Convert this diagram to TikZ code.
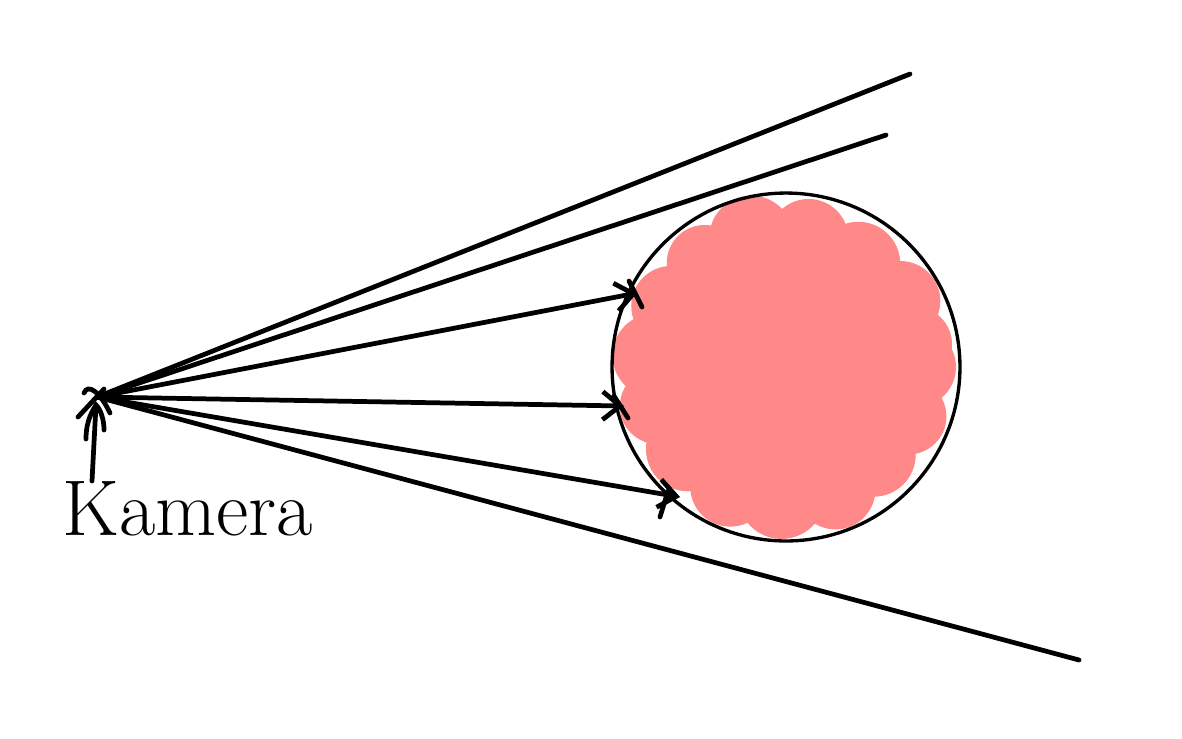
\documentclass[tikz,border=0pt]{standalone}
\usetikzlibrary{arrows.meta,calc}
\definecolor{blobpink}{RGB}{255,136,136}
\tikzset{
  ray/.style={line width=2.7pt, line cap=round},
  arrowray/.style={ray, -{Straight Barb[length=10pt,width=16pt,line width=2.7pt]}},
  tick/.style={line width=2.7pt, line cap=round},
  rim/.style={line width=1.9pt},
  blob/.style={fill=blobpink, draw=none},
  label/.style={font=\fontsize{45}{45}\selectfont, inner sep=0pt}
}
\begin{document}
\begin{tikzpicture}[x=0.02cm,y=-0.02cm]
\useasboundingbox (0,0) rectangle (1182,738);
% pink blob
\fill[blob] (786,367) circle (134);
\foreach \a/\r/\d in {0/40/130,22/38/132,45/42/124,68/40/132,92/44/128,115/40/132,140/42/128,163/38/134,185/42/132,208/40/130,232/38/132,255/42/134,280/40/130,305/42/126,330/40/132,350/38/130}{
  \fill[blob] ($(786,367)+(\a:\d)$) circle (\r);
}
% circle
\node[draw, rim, circle, minimum size=6.96cm, inner sep=0pt] (ball) at (786,367) {};
% camera and endpoints
\coordinate (cam) at (97,397);
\coordinate (top1) at (910,74);
\coordinate (top2) at (886,135);
\coordinate (bot) at (1079,660);
\coordinate (p1) at (637,293);
\coordinate (p2) at (624,406);
\coordinate (p3) at (680,497);
\draw[ray] (cam) -- (top1);
\draw[ray] (cam) -- (top2);
\draw[ray] (cam) -- (bot);
\draw[arrowray] (cam) -- (p1);
\draw[arrowray] (cam) -- (p2);
\draw[arrowray] (cam) -- (p3);
% crosses at the hit points
\draw[tick] ($(p1)+(-8,-12)$) -- ($(p1)+(5,14)$);
\draw[tick] ($(p2)+(-10,-10)$) -- ($(p2)+(4,12)$);
\draw[tick] ($(p3)+(-12,-6)$) -- ($(p3)+(-20,20)$);
% camera mark
\draw[tick] (78,417) -- (104,389);
\draw[tick] (84,393) .. controls (88,383) and (100,392) .. (110,413);
% label and pointer
\node[label, anchor=south west] (kam) at (62,536) {Kamera};
\coordinate (kamtip) at (96,405);
\draw[tick] (92,481) -- (kamtip);
\draw[tick] (86,439) .. controls (86,420) and (93,410) .. (kamtip) .. controls (101,410) and (104,420) .. (104,430);
\end{tikzpicture}
\end{document}
